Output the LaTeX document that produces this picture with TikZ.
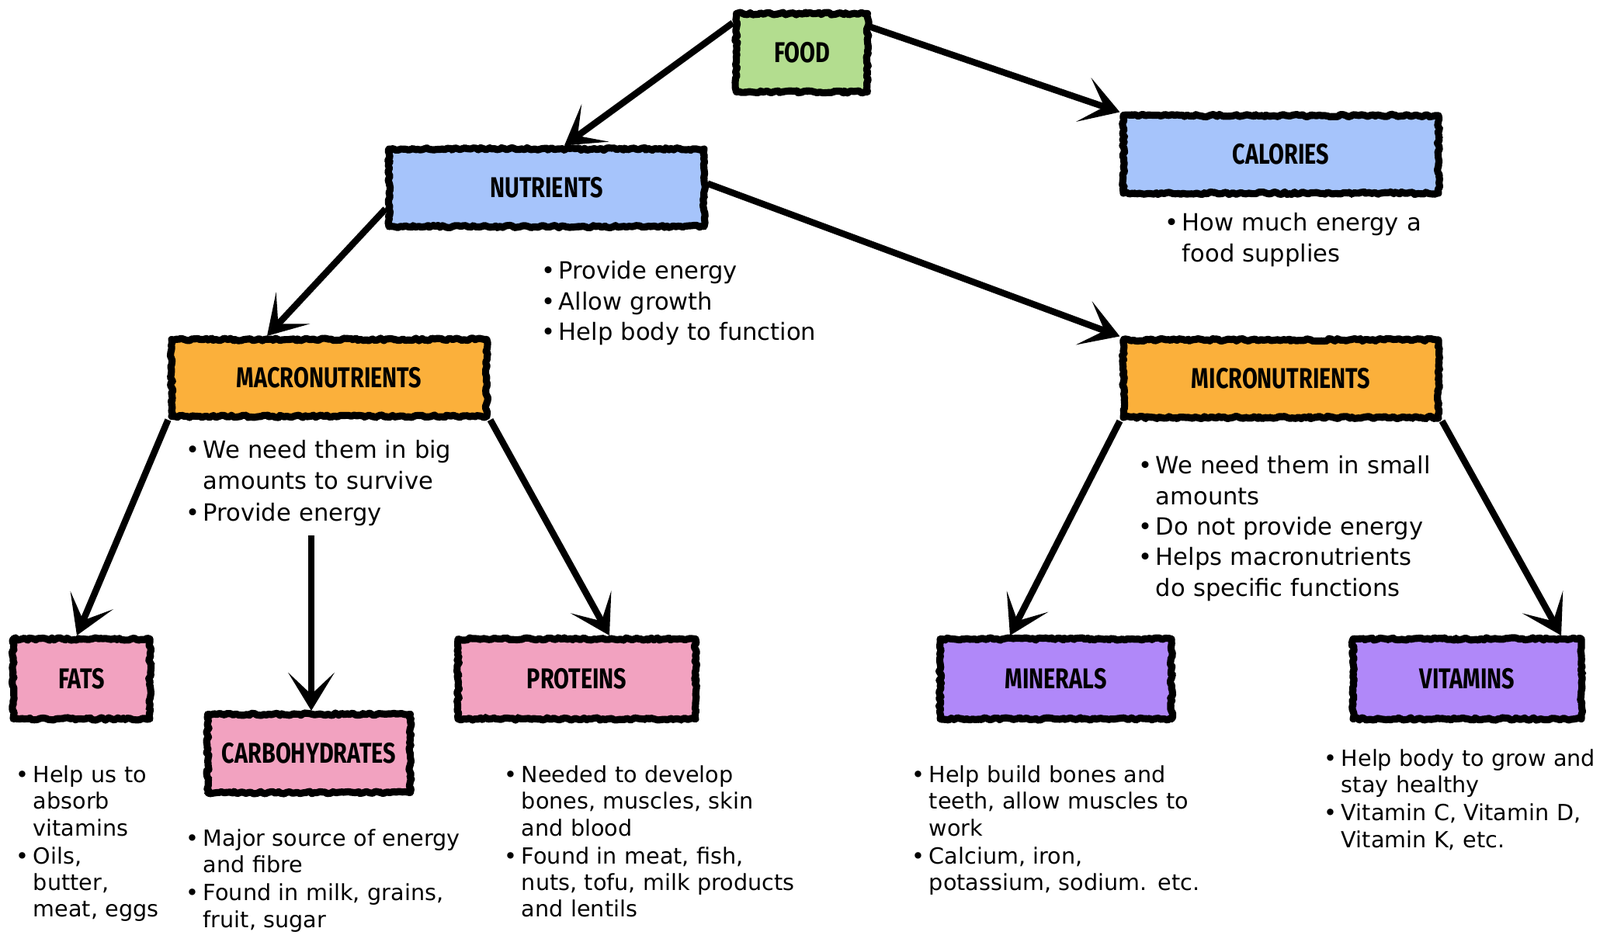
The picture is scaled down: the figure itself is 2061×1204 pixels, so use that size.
\documentclass[tikz,border=0pt]{standalone}
\usepackage{fontspec}
\setmainfont{DejaVu Sans}
\newfontfamily\headfont{Fira Sans}[FakeStretch=0.78]
\usetikzlibrary{arrows.meta,calc,decorations.pathmorphing}
\usepackage{xcolor}
\definecolor{foodgreen}{HTML}{B3DD8F}
\definecolor{nutrblue}{HTML}{A6C4FB}
\definecolor{macroorange}{HTML}{FBB03B}
\definecolor{grouppink}{HTML}{F2A2C0}
\definecolor{minpurple}{HTML}{B088F9}
\newcommand{\itm}[1] {%
    \par\noindent\lineskip=0pt\makebox[0.45cm][l]{\strut\textbullet}%
    \parbox[t]{9cm}{\raggedright\strut #1\strut}%
}
\tikzset{
    sketchbox/.style={draw=black,line width=5.2pt,fill=#1,inner sep=0pt,
        line join=round,
        decorate,decoration={random steps,segment length=2pt,amplitude=0.9pt},
        postaction={draw,line width=1.6pt,line join=round,decorate,
            decoration={random steps,segment length=1.5pt,amplitude=2.2pt}},
        font=\headfont\bfseries\fontsize{21}{21}\selectfont},
    sketcharrow/.style={line width=4.8pt,
        -{Stealth[length=28pt,width=34pt,inset=16pt]}},
    notes/.style={anchor=north west,inner sep=0pt,text width=10cm,align=left,
        font=\fontsize{17.4}{22.4}\selectfont},
    smallnotes/.style={notes,font=\fontsize{16.3}{19.5}\selectfont},
}

\begin{document}
\begin{tikzpicture}[x=0.02cm,y=-0.02cm]
    \useasboundingbox (0,0) rectangle (2061,1204);
    % boxes
    \node[sketchbox=foodgreen,minimum width=3.38cm,minimum height=2.02cm]
        (food) at (1033,68) {FOOD};
    \node[sketchbox=nutrblue,minimum width=8.12cm,minimum height=2cm]
        (nutr) at (704,242) {NUTRIENTS};
    \node[sketchbox=nutrblue,minimum width=8.12cm,minimum height=2cm]
        (cal) at (1650,199) {CALORIES};
    \node[sketchbox=macroorange,minimum width=8.12cm,minimum height=1.98cm]
        (macro) at (424,487) {MACRONUTRIENTS};
    \node[sketchbox=macroorange,minimum width=8.12cm,minimum height=2cm]
        (micro) at (1650,488) {MICRONUTRIENTS};
    \node[sketchbox=grouppink,minimum width=3.52cm,minimum height=2.06cm]
        (fats) at (105,875) {FATS};
    \node[sketchbox=grouppink,minimum width=5.22cm,minimum height=2.02cm]
        (carbs) at (398,971) {CARBOHYDRATES};
    \node[sketchbox=grouppink,minimum width=6.12cm,minimum height=2.06cm]
        (prot) at (743,875) {PROTEINS};
    \node[sketchbox=minpurple,minimum width=5.96cm,minimum height=2.06cm]
        (mins) at (1360,875) {MINERALS};
    \node[sketchbox=minpurple,minimum width=5.88cm,minimum height=2.06cm]
        (vits) at (1890,875) {VITAMINS};

    % notes
    \node[notes] (calnote) at (1500,258) {\itm{How much energy a\\food supplies}};
    \node[notes] (nutrnote) at (697,320) {\itm{Provide energy}\itm{Allow growth}\itm{Help body to function}};
    \node[notes] (macronote) at (239,551) {\itm{We need them in big\\amounts to survive}\itm{Provide energy}};
    \node[notes] (micronote) at (1466,571) {\itm{We need them in small\\amounts}\itm{Do not provide energy}\itm{Helps macronutrients\\do specific functions}};
    \node[smallnotes] (fatsnote) at (20,974) {\itm{Help us to\\absorb\\vitamins}\itm{Oils,\\butter,\\meat, eggs}};
    \node[smallnotes] (carbsnote) at (239,1056) {\itm{Major source of energy\\and fibre}\itm{Found in milk, grains,\\fruit, sugar}};
    \node[smallnotes] (protnote) at (649,974) {\itm{Needed to develop\\bones, muscles, skin\\and blood}\itm{Found in meat, fish,\\nuts, tofu, milk products\\and lentils}};
    \node[smallnotes] (minsnote) at (1174,974) {\itm{Help build bones and\\teeth, allow muscles to\\work}\itm{Calcium, iron,\\potassium, sodium. etc.}};
    \node[smallnotes] (vitsnote) at (1705,953) {\itm{Help body to grow and\\stay healthy}\itm{Vitamin C, Vitamin D,\\Vitamin K, etc.}};

    % arrows
    \coordinate (carbtop) at (401,690);
    \draw[sketcharrow] ($(food.north west)!0.15!(food.south west)$) -- ($(nutr.north)+(23,0)$);
    \draw[sketcharrow] ($(food.north east)!0.2!(food.south east)$) -- (cal.north west);
    \draw[sketcharrow] ($(nutr.north west)!0.75!(nutr.south west)$) -- ($(macro.north)+(-80,0)$);
    \draw[sketcharrow] ($(nutr.north east)!0.45!(nutr.south east)$) -- (micro.north west);
    \draw[sketcharrow] (macro.south west) -- ($(fats.north)+(-6,0)$);
    \draw[sketcharrow] (carbtop) -- (carbtop |- carbs.north);
    \draw[sketcharrow] (macro.south east) -- ($(prot.north)+(42,0)$);
    \draw[sketcharrow] (micro.south west) -- ($(mins.north)+(-59,0)$);
    \draw[sketcharrow] (micro.south east) -- ($(vits.north)+(121,0)$);
\end{tikzpicture}
\end{document}
